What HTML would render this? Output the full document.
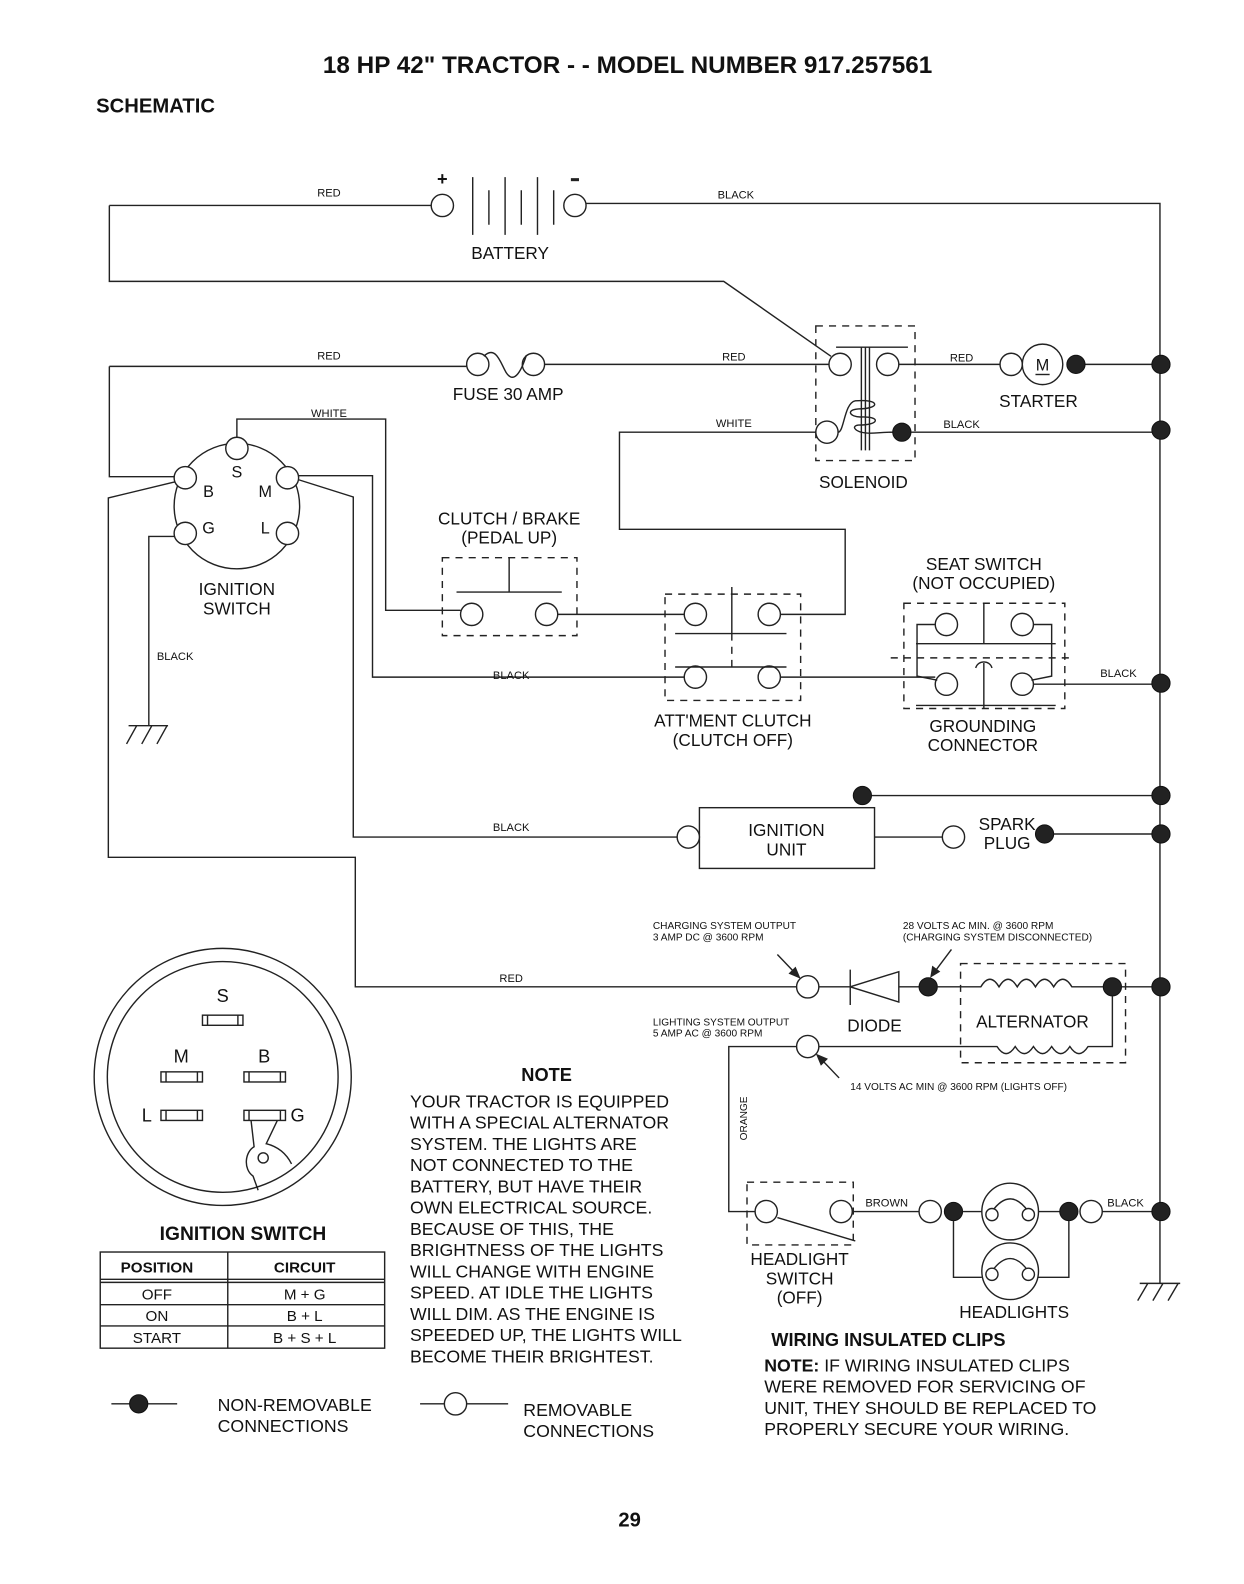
<!DOCTYPE html>
<html><head><meta charset="utf-8"><style>
html,body{margin:0;padding:0;background:#fff;}
svg{display:block;}
text{font-family:"Liberation Sans",Arial,sans-serif;fill:#111;}
.w{stroke:#222;stroke-width:1.4;fill:none;}
.d{stroke:#222;stroke-width:1.4;fill:none;stroke-dasharray:7,6;}
.o{stroke:#222;stroke-width:1.4;fill:#fff;}
.k{fill:#222;stroke:#111;stroke-width:1;}
.s{font-size:11px;}
.m{font-size:17px;}
</style></head><body>
<svg width="1244" height="1584" viewBox="0 0 1229 1565" xmlns="http://www.w3.org/2000/svg">
<text x="620" y="72" text-anchor="middle" font-size="24" font-weight="bold">18 HP 42" TRACTOR - - MODEL NUMBER 917.257561</text>
<text x="95" y="111" font-size="20" font-weight="bold">SCHEMATIC</text>

<!-- battery -->
<path class="w" d="M108 203 H426 M579 201 H1146 V1268"/>
<circle class="o" cx="437" cy="203" r="11"/><circle class="o" cx="568" cy="203" r="11"/>
<path class="w" d="M467 175V232 M483 188V222 M499 175V232 M515 188V222 M531 175V232 M547 188V222"/>
<text x="437" y="183" text-anchor="middle" font-size="18" font-weight="bold">+</text>
<rect x="564" y="176" width="8" height="3" fill="#222"/>
<text x="325" y="194" class="s" text-anchor="middle">RED</text>
<text x="727" y="196" class="s" text-anchor="middle">BLACK</text>
<text x="504" y="256" class="m" text-anchor="middle">BATTERY</text>
<path class="w" d="M108 203 V278 H715 L821 352"/>

<!-- fuse -->
<path class="w" d="M108 362 H461 M538 360 H819"/>
<circle class="o" cx="472" cy="360" r="11"/><circle class="o" cx="527" cy="360" r="11"/>
<path class="w" d="M478 352 C490 340,495 360,500 368 C505 376,512 376,520 351"/>
<text x="325" y="355" class="s" text-anchor="middle">RED</text>
<text x="725" y="356" class="s" text-anchor="middle">RED</text>
<text x="502" y="395" class="m" text-anchor="middle">FUSE 30 AMP</text>

<!-- solenoid -->
<rect class="d" x="806" y="322" width="98" height="133"/>
<path class="w" d="M826 343H897 M851 343V445 M855 343V445 M859 343V445"/>
<circle class="o" cx="830" cy="360" r="11"/><circle class="o" cx="877" cy="360" r="11"/>
<circle class="o" cx="817" cy="427" r="11"/>
<path class="w" d="M828 427 C834 427,834 398,845 396 C870 394,870 404,848 404 C835 405,840 412,850 412 C870 411,870 420,848 420 C840 421,845 428,860 428 C868 428,868 427,883 427"/>
<circle class="k" cx="891" cy="427" r="9"/>
<text x="853" y="482" class="m" text-anchor="middle">SOLENOID</text>
<path class="w" d="M888 360 H988 M1072 360 H1146 M900 427 H1146"/>
<text x="950" y="357" class="s" text-anchor="middle">RED</text>
<text x="950" y="423" class="s" text-anchor="middle">BLACK</text>
<text x="725" y="422" class="s" text-anchor="middle">WHITE</text>
<circle class="o" cx="999" cy="360" r="11"/><circle class="o" cx="1030" cy="360" r="20"/>
<text x="1030" y="366" font-size="16" text-anchor="middle">M</text>
<path class="w" d="M1023 370H1037"/>
<circle class="k" cx="1063" cy="360" r="9"/>
<circle class="k" cx="1147" cy="360" r="9"/><circle class="k" cx="1147" cy="425" r="9"/>
<text x="1026" y="402" class="m" text-anchor="middle">STARTER</text>
<path class="w" d="M806 427 H612 V523 H835 V607 H771"/>

<!-- ignition switch -->
<circle class="w" cx="234" cy="500" r="62"/>
<circle class="o" cx="234" cy="443" r="11"/>
<circle class="o" cx="183" cy="472" r="11"/><circle class="o" cx="284" cy="472" r="11"/>
<circle class="o" cx="183" cy="527" r="11"/><circle class="o" cx="284" cy="527" r="11"/>
<text x="234" y="472" font-size="16" text-anchor="middle">S</text>
<text x="206" y="491" font-size="16" text-anchor="middle">B</text>
<text x="262" y="491" font-size="16" text-anchor="middle">M</text>
<text x="206" y="527" font-size="16" text-anchor="middle">G</text>
<text x="262" y="527" font-size="16" text-anchor="middle">L</text>
<text x="234" y="588" class="m" text-anchor="middle">IGNITION</text>
<text x="234" y="607" class="m" text-anchor="middle">SWITCH</text>
<text x="325" y="412" class="s" text-anchor="middle">WHITE</text>
<path class="w" d="M234 432 V414 H381 V603 H455"/>
<path class="w" d="M108 362 V471 H172 M173 476 L107 492 V847 H351 V975 H787"/>
<path class="w" d="M172 530 H147 V717"/>
<path class="w" d="M127 717 H166 M135 717 L125 735 M150 717 L140 735 M165 717 L155 735"/>
<text x="173" y="652" class="s" text-anchor="middle">BLACK</text>
<path class="w" d="M295 470 H368 V669 H676"/>
<path class="w" d="M295 474 L349 491 V827 H669"/>
<text x="505" y="671" class="s" text-anchor="middle">BLACK</text>
<text x="505" y="821" class="s" text-anchor="middle">BLACK</text>
<text x="505" y="970" class="s" text-anchor="middle">RED</text>

<!-- clutch brake -->
<text x="503" y="518" class="m" text-anchor="middle">CLUTCH / BRAKE</text>
<text x="503" y="537" class="m" text-anchor="middle">(PEDAL UP)</text>
<rect class="d" x="437" y="551" width="133" height="77"/>
<path class="w" d="M503 551V585 M451 585H555"/>
<circle class="o" cx="466" cy="607" r="11"/><circle class="o" cx="540" cy="607" r="11"/>
<path class="w" d="M551 607H676"/>

<!-- attachment clutch -->
<rect class="d" x="657" y="587" width="134" height="105"/>
<circle class="o" cx="687" cy="607" r="11"/><circle class="o" cx="760" cy="607" r="11"/>
<circle class="o" cx="687" cy="669" r="11"/><circle class="o" cx="760" cy="669" r="11"/>
<path class="w" d="M667 626H777 M667 659H777 M723 580V626"/>
<path class="d" d="M723 626V659"/>
<path class="w" d="M771 669H924"/>
<text x="724" y="718" class="m" text-anchor="middle">ATT'MENT CLUTCH</text>
<text x="724" y="737" class="m" text-anchor="middle">(CLUTCH OFF)</text>

<!-- seat switch -->
<text x="972" y="563" class="m" text-anchor="middle">SEAT SWITCH</text>
<text x="972" y="582" class="m" text-anchor="middle">(NOT OCCUPIED)</text>
<rect class="d" x="893" y="596" width="159" height="104"/>
<circle class="o" cx="935" cy="617" r="11"/><circle class="o" cx="1010" cy="617" r="11"/>
<circle class="o" cx="935" cy="676" r="11"/><circle class="o" cx="1010" cy="676" r="11"/>
<path class="w" d="M905 636H1043 M905 697H1043 M972 596V636 M972 655V700"/>
<path class="d" d="M880 650H1062"/>
<path class="w" d="M964 660 C966 652,978 652,980 660"/>
<path class="w" d="M924 617H906V668L926 672 M1021 617H1039V668L1019 672"/>
<path class="w" d="M1021 676H1146"/>
<circle class="k" cx="1147" cy="675" r="9"/>
<text x="1105" y="669" class="s" text-anchor="middle">BLACK</text>
<text x="971" y="723" class="m" text-anchor="middle">GROUNDING</text>
<text x="971" y="742" class="m" text-anchor="middle">CONNECTOR</text>

<!-- ignition unit -->
<path class="w" d="M852 786H1146"/>
<circle class="k" cx="852" cy="786" r="9"/><circle class="k" cx="1147" cy="786" r="9"/>
<rect class="w" x="691" y="798" width="173" height="60"/>
<circle class="o" cx="680" cy="827" r="11"/>
<text x="777" y="826" class="m" text-anchor="middle">IGNITION</text>
<text x="777" y="845" class="m" text-anchor="middle">UNIT</text>
<path class="w" d="M864 827H931 M1030 824H1146"/>
<circle class="o" cx="942" cy="827" r="11"/>
<text x="995" y="820" class="m" text-anchor="middle">SPARK</text>
<text x="995" y="839" class="m" text-anchor="middle">PLUG</text>
<circle class="k" cx="1032" cy="824" r="9"/><circle class="k" cx="1147" cy="824" r="9"/>

<!-- charging -->
<text x="645" y="918" font-size="10">CHARGING SYSTEM OUTPUT</text>
<text x="645" y="929" font-size="10">3 AMP DC @ 3600 RPM</text>
<text x="892" y="918" font-size="10">28 VOLTS AC MIN. @ 3600 RPM</text>
<text x="892" y="929" font-size="10">(CHARGING SYSTEM DISCONNECTED)</text>
<path class="w" d="M940 938L922 962"/>
<path d="M919 966L921 954L929 960Z" fill="#222"/>
<circle class="o" cx="798" cy="975" r="11"/>
<path class="w" d="M809 975H840 M840 958V993 M840 975L888 960V990Z M888 975H908"/>
<circle class="k" cx="917" cy="975" r="9"/>
<path class="w" d="M926 975H969 Q978 960,987 975 Q996 960,1005 975 Q1014 960,1023 975 Q1032 960,1041 975 Q1050 960,1059 975 H1092"/>
<circle class="k" cx="1099" cy="975" r="9"/>
<path class="w" d="M1108 975H1146 M1099 984V1034H1075 Q1066 1048,1057 1034 Q1048 1048,1039 1034 Q1030 1048,1021 1034 Q1012 1048,1003 1034 Q994 1048,985 1034 H809"/>
<circle class="k" cx="1147" cy="975" r="9"/>
<rect class="d" x="949" y="952" width="163" height="98"/>
<text x="1020" y="1015" class="m" text-anchor="middle">ALTERNATOR</text>
<text x="864" y="1019" class="m" text-anchor="middle">DIODE</text>
<path class="w" d="M768 943L789 965 M808 1043L829 1065"/>
<path d="M791 967L779 962L786 955Z M806 1041L818 1046L811 1053Z" fill="#222"/>
<text x="645" y="1013" font-size="10">LIGHTING SYSTEM OUTPUT</text>
<text x="645" y="1024" font-size="10">5 AMP AC @ 3600 RPM</text>
<circle class="o" cx="798" cy="1034" r="11"/>
<text x="840" y="1077" font-size="10">14 VOLTS AC MIN  @ 3600 RPM (LIGHTS OFF)</text>
<path class="w" d="M787 1034H720V1197H746"/>
<text x="741" y="1108" font-size="10" text-anchor="middle" transform="rotate(-90 738 1108)">ORANGE</text>

<!-- headlights -->
<rect class="d" x="738" y="1168" width="105" height="62"/>
<circle class="o" cx="757" cy="1197" r="11"/><circle class="o" cx="831" cy="1197" r="11"/>
<path class="w" d="M768 1203L845 1226 M842 1197H908"/>
<text x="876" y="1192" class="s" text-anchor="middle">BROWN</text>
<text x="1112" y="1192" class="s" text-anchor="middle">BLACK</text>
<circle class="o" cx="919" cy="1197" r="11"/><circle class="k" cx="942" cy="1197" r="9"/>
<path class="w" d="M951 1197H970 M1026 1197H1047 M942 1206V1262H970 M1026 1262H1056V1206 M1089 1197H1146"/>
<circle class="w" cx="998" cy="1197" r="28"/><circle class="w" cx="998" cy="1256" r="28"/>
<path class="w" d="M980 1197 Q998 1172,1016 1197 M980 1256 Q998 1231,1016 1256"/>
<circle class="o" cx="980" cy="1200" r="6"/><circle class="o" cx="1016" cy="1200" r="6"/>
<circle class="o" cx="980" cy="1259" r="6"/><circle class="o" cx="1016" cy="1259" r="6"/>
<circle class="k" cx="1056" cy="1197" r="9"/><circle class="o" cx="1078" cy="1197" r="11"/>
<circle class="k" cx="1147" cy="1197" r="9"/>
<path class="w" d="M1126 1268H1166 M1134 1268L1124 1285 M1149 1268L1139 1285 M1164 1268L1154 1285"/>
<text x="790" y="1250" class="m" text-anchor="middle">HEADLIGHT</text>
<text x="790" y="1269" class="m" text-anchor="middle">SWITCH</text>
<text x="790" y="1288" class="m" text-anchor="middle">(OFF)</text>
<text x="1002" y="1302" class="m" text-anchor="middle">HEADLIGHTS</text>

<!-- ignition switch detail -->
<circle class="w" cx="220" cy="1064" r="127"/><circle class="w" cx="220" cy="1064" r="114"/>
<text x="220" y="990" font-size="18" text-anchor="middle">S</text>
<rect class="w" x="200" y="1003" width="40" height="10"/><path class="w" d="M205 1003V1013 M235 1003V1013"/>
<text x="179" y="1050" font-size="18" text-anchor="middle">M</text>
<rect class="w" x="159" y="1059" width="41" height="10"/><path class="w" d="M164 1059V1069 M195 1059V1069"/>
<text x="261" y="1050" font-size="18" text-anchor="middle">B</text>
<rect class="w" x="241" y="1059" width="41" height="10"/><path class="w" d="M246 1059V1069 M277 1059V1069"/>
<text x="145" y="1108" font-size="18" text-anchor="middle">L</text>
<rect class="w" x="159" y="1097" width="41" height="10"/><path class="w" d="M164 1097V1107 M195 1097V1107"/>
<rect class="w" x="241" y="1097" width="41" height="10"/><path class="w" d="M246 1097V1107 M277 1097V1107"/>
<text x="294" y="1108" font-size="18" text-anchor="middle">G</text>
<path class="w" d="M248 1107L251 1133 C242 1138,240 1155,250 1162 L255 1176 M274 1107L263 1130 C275 1133,283 1140,288 1150"/>
<circle class="w" cx="260" cy="1144" r="5"/>
<text x="240" y="1225" font-size="19" font-weight="bold" text-anchor="middle">IGNITION SWITCH</text>
<rect class="w" x="99" y="1237" width="281" height="95"/>
<path class="w" d="M225 1237V1332 M99 1264H380 M99 1267H380 M99 1289H380 M99 1310H380"/>
<text x="155" y="1257" font-size="15" font-weight="bold" text-anchor="middle">POSITION</text>
<text x="301" y="1257" font-size="15" font-weight="bold" text-anchor="middle">CIRCUIT</text>
<text x="155" y="1284" font-size="15" text-anchor="middle">OFF</text>
<text x="301" y="1284" font-size="15" text-anchor="middle">M + G</text>
<text x="155" y="1305" font-size="15" text-anchor="middle">ON</text>
<text x="301" y="1305" font-size="15" text-anchor="middle">B + L</text>
<text x="155" y="1327" font-size="15" text-anchor="middle">START</text>
<text x="301" y="1327" font-size="15" text-anchor="middle">B + S + L</text>

<!-- note -->
<text x="540" y="1068" font-size="18" font-weight="bold" text-anchor="middle">NOTE</text>
<g font-size="17.5">
<text x="405" y="1094">YOUR TRACTOR IS EQUIPPED</text>
<text x="405" y="1115">WITH A SPECIAL ALTERNATOR</text>
<text x="405" y="1136">SYSTEM.  THE LIGHTS ARE</text>
<text x="405" y="1157">NOT CONNECTED TO  THE</text>
<text x="405" y="1178">BATTERY, BUT HAVE THEIR</text>
<text x="405" y="1199">OWN ELECTRICAL SOURCE.</text>
<text x="405" y="1220">BECAUSE OF THIS, THE</text>
<text x="405" y="1241">BRIGHTNESS OF THE LIGHTS</text>
<text x="405" y="1262">WILL CHANGE WITH ENGINE</text>
<text x="405" y="1283">SPEED.  AT IDLE THE LIGHTS</text>
<text x="405" y="1304">WILL DIM. AS THE ENGINE IS</text>
<text x="405" y="1325">SPEEDED UP, THE LIGHTS WILL</text>
<text x="405" y="1346">BECOME THEIR BRIGHTEST.</text>
</g>
<text x="762" y="1330" font-size="18" font-weight="bold">WIRING INSULATED CLIPS</text>
<g font-size="17.5">
<text x="755" y="1355"><tspan font-weight="bold">NOTE:</tspan> IF WIRING INSULATED CLIPS</text>
<text x="755" y="1376">WERE REMOVED FOR SERVICING OF</text>
<text x="755" y="1397">UNIT, THEY SHOULD BE REPLACED TO</text>
<text x="755" y="1418">PROPERLY SECURE YOUR WIRING.</text>
</g>

<!-- legend -->
<path class="w" d="M110 1387H175 M415 1387H502"/>
<circle class="k" cx="137" cy="1387" r="9"/><circle class="o" cx="450" cy="1387" r="11"/>
<text x="215" y="1394" font-size="17.5">NON-REMOVABLE</text>
<text x="215" y="1415" font-size="17.5">CONNECTIONS</text>
<text x="517" y="1399" font-size="17.5">REMOVABLE</text>
<text x="517" y="1420" font-size="17.5">CONNECTIONS</text>
<text x="622" y="1508" font-size="20" font-weight="bold" text-anchor="middle">29</text>
</svg>
</body></html>
